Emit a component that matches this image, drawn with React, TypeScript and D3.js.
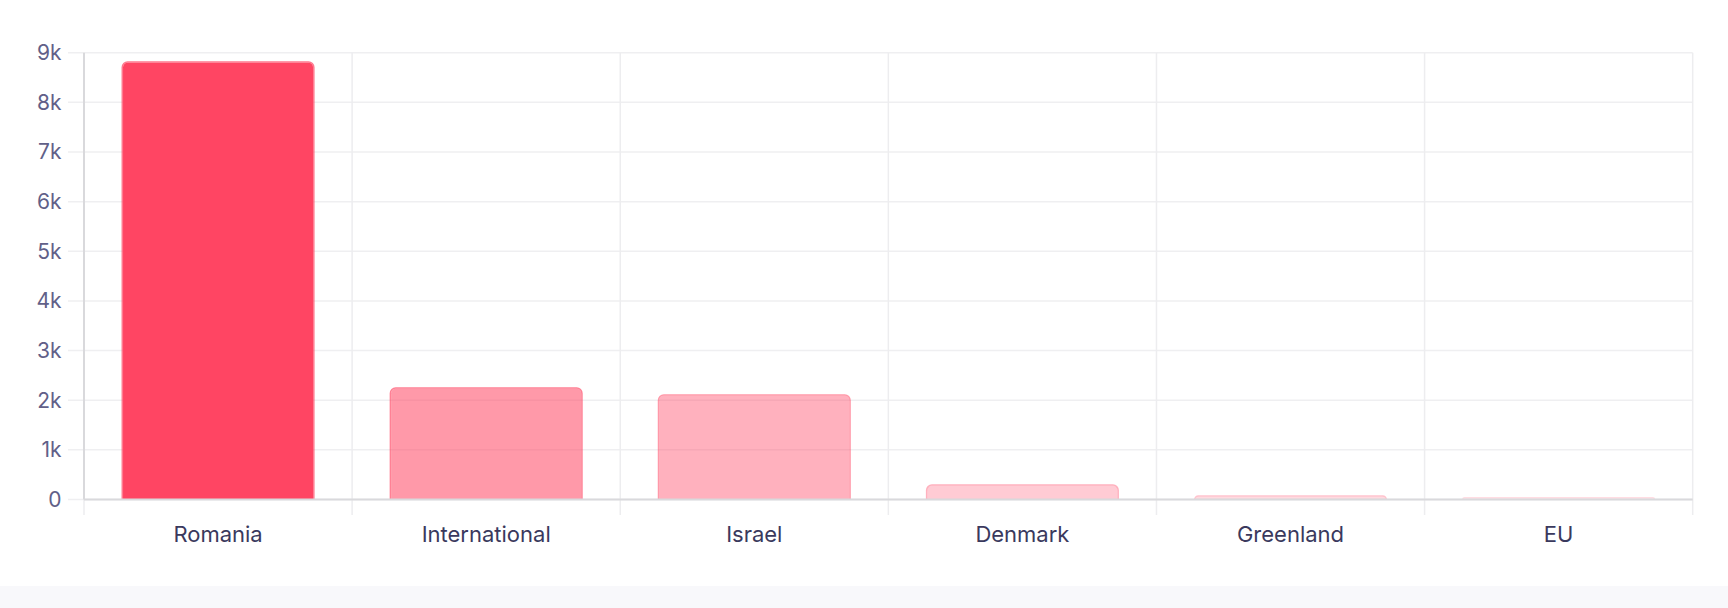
import React from "react";
import * as d3 from "d3";

const categories = ["Romania", "International", "Israel", "Denmark", "Greenland", "EU"];
const values = [8830, 2260, 2120, 305, 88, 50];
const yTickValues = [0, 1000, 2000, 3000, 4000, 5000, 6000, 7000, 8000, 9000];
const fillAlphas = [1, 0.55, 0.42, 0.28, 0.2, 0.1];
const borderAlphas = [0.72, 0.68, 0.55, 0.42, 0.32, 0.18];

const W = 1728;
const H = 608;
const LEFT = 84;
const RIGHT = 1692.7;
const TOP = 52.7;
const ZERO = 499.5;

function topRounded(x: number, y: number, w: number, h: number, r: number): string {
  const rr = Math.max(0, Math.min(r, w / 2, h));
  const p = d3.path();
  p.moveTo(x, y + h);
  p.lineTo(x, y + rr);
  p.arcTo(x, y, x + rr, y, rr);
  p.lineTo(x + w - rr, y);
  p.arcTo(x + w, y, x + w, y + rr, rr);
  p.lineTo(x + w, y + h);
  p.closePath();
  return p.toString();
}

export default function App() {
  const x = d3.scaleBand<string>().domain(categories).range([LEFT, RIGHT]).paddingInner(0).paddingOuter(0);
  const y = d3.scaleLinear().domain([0, 9000]).range([ZERO, TOP]);
  const band = x.bandwidth();
  const barW = band * 0.72;
  const bw = 1.5;
  const radius = 6;
  const fmt = (v: number) => (v === 0 ? "0" : `${v / 1000}k`);
  const boundaries = d3.range(categories.length + 1).map((i) => LEFT + i * band);

  return (
    <div style={{ position: "fixed", left: 0, top: 0, width: W, height: H, background: "#fff" }}>
      <svg width={W} height={H} style={{ display: "block" }}>
        <rect x={0} y={0} width={W} height={H} fill="#ffffff" />
        <rect x={0} y={586} width={W} height={H - 586} fill="#f8f8fb" />
        {yTickValues.map((v) => (
          <line key={"h" + v} x1={68} x2={RIGHT} y1={y(v)} y2={y(v)} stroke="#efeff1" strokeWidth={1.5} />
        ))}
        {boundaries.map((bx, i) => (
          <line key={"v" + i} x1={bx} x2={bx} y1={TOP} y2={515} stroke="#ededef" strokeWidth={1.5} />
        ))}
        {categories.map((c, i) => {
          const bx = (x(c) as number) + (band - barW) / 2;
          const by = y(values[i]);
          const bh = ZERO - by;
          const outer = topRounded(bx, by, barW, bh, radius);
          const inner = topRounded(bx + bw, by + bw, barW - 2 * bw, Math.max(0, bh - bw), radius - bw);
          return (
            <g key={c}>
              <path d={inner} fill={`rgba(255,69,99,${fillAlphas[i]})`} />
              <path d={outer + inner} fill={`rgba(255,69,99,${borderAlphas[i]})`} fillRule="evenodd" />
            </g>
          );
        })}
        <line x1={LEFT} x2={RIGHT} y1={ZERO} y2={ZERO} stroke="#d9d9dc" strokeWidth={2} />
        <line x1={LEFT} x2={LEFT} y1={TOP} y2={ZERO} stroke="#d9d9dc" strokeWidth={2} />
        {yTickValues.map((v) => (
          <text
            key={"yl" + v}
            x={61.5}
            y={y(v)}
            textAnchor="end"
            dominantBaseline="central"
            fontFamily="Inter, 'Noto Sans', sans-serif"
            fontSize={21}
            fill="#616088"
          >
            {fmt(v)}
          </text>
        ))}
        {categories.map((c) => (
          <text
            key={"xl" + c}
            x={(x(c) as number) + band / 2}
            y={541.5}
            textAnchor="middle"
            fontFamily="Inter, 'Noto Sans', sans-serif"
            fontSize={22}
            fill="#3a395d"
          >
            {c}
          </text>
        ))}
      </svg>
    </div>
  );
}
